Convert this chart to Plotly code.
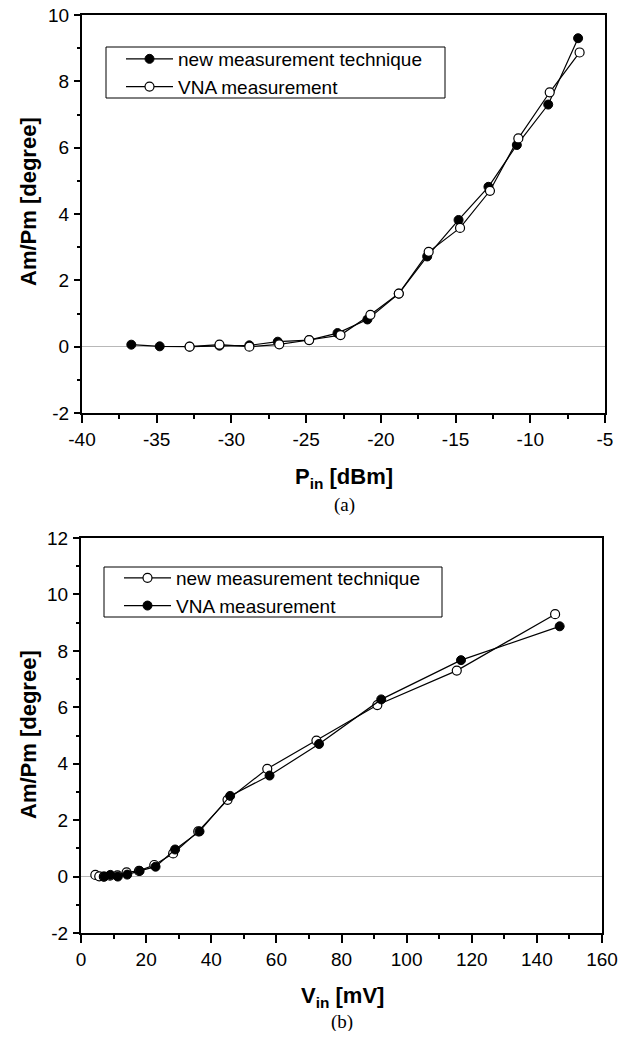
import plotly.graph_objects as go

# ---- data ----
new_P = [-36.7, -34.8, -32.8, -30.8, -28.8, -26.9, -24.8, -22.9, -20.9, -18.8, -16.9, -14.8, -12.8, -10.9, -8.8, -6.8]
new_ampm = [0.06, 0.01, 0.0, 0.03, 0.04, 0.15, 0.2, 0.41, 0.82, 1.6, 2.72, 3.82, 4.82, 6.08, 7.3, 9.3]
new_V = [4.4, 5.6, 7.0, 8.9, 11.2, 14.0, 17.8, 22.5, 28.3, 36.0, 45.0, 57.2, 72.3, 91.0, 115.4, 145.6]

vna_P = [-32.8, -30.8, -28.8, -26.8, -24.8, -22.7, -20.7, -18.8, -16.8, -14.7, -12.7, -10.8, -8.7, -6.7]
vna_ampm = [0.0, 0.06, 0.0, 0.07, 0.2, 0.35, 0.96, 1.6, 2.86, 3.58, 4.7, 6.28, 7.67, 8.87]
vna_V = [7.1, 9.0, 11.3, 14.2, 18.0, 22.9, 28.9, 36.4, 45.8, 57.9, 73.1, 92.2, 116.7, 147.0]

name_new = "new measurement technique"
name_vna = "VNA measurement"

# tick labels (hyphen-minus as in the reference)
p_ticks = [-40, -35, -30, -25, -20, -15, -10, -5]
p_ticktext = ["-40", "-35", "-30", "-25", "-20", "-15", "-10", "-5"]
v_ticks = [0, 20, 40, 60, 80, 100, 120, 140, 160]
v_ticktext = ["0", "20", "40", "60", "80", "100", "120", "140", "160"]
ya_ticks = [-2, 0, 2, 4, 6, 8, 10]
ya_ticktext = ["-2", "0", "2", "4", "6", "8", "10"]
yb_ticks = [-2, 0, 2, 4, 6, 8, 10, 12]
yb_ticktext = ["-2", "0", "2", "4", "6", "8", "10", "12"]

# the page body has an 8px margin, so the figure is placed at (8, 8)
OFF = 8
W, H = 626 - 2 * OFF, 1039 - 2 * OFF
FONT = "Arial, 'Liberation Sans', sans-serif"
SERIF = "'Times New Roman', 'Liberation Serif', serif"

def px_x(p):
    return (p - OFF) / W

def px_y(p):
    return 1 - (p - OFF) / H

filled = dict(symbol="circle", size=9, color="black", line=dict(color="black", width=1))
hollow = dict(symbol="circle", size=9, color="white", line=dict(color="black", width=1.2))
line_style = dict(color="black", width=1.2)

fig = go.Figure()
# top plot: new = filled, VNA = open
fig.add_trace(go.Scatter(x=new_P, y=new_ampm, mode="lines+markers", name=name_new,
                         marker=filled, line=line_style, xaxis="x", yaxis="y", legend="legend"))
fig.add_trace(go.Scatter(x=vna_P, y=vna_ampm, mode="lines+markers", name=name_vna,
                         marker=hollow, line=line_style, xaxis="x", yaxis="y", legend="legend"))
# bottom plot: new = open, VNA = filled
fig.add_trace(go.Scatter(x=new_V, y=new_ampm, mode="lines+markers", name=name_new,
                         marker=hollow, line=line_style, xaxis="x2", yaxis="y2", legend="legend2"))
fig.add_trace(go.Scatter(x=vna_V, y=vna_ampm, mode="lines+markers", name=name_vna,
                         marker=filled, line=line_style, xaxis="x2", yaxis="y2", legend="legend2"))

tickfont = dict(family=FONT, size=19, color="black")

def xax(rng, tv, tt, minor_dtick, domain, anchor):
    return dict(range=rng, tickmode="array", tickvals=tv, ticktext=tt, domain=domain, anchor=anchor,
                automargin=False, ticklabeloverflow="allow",
                showline=True, linewidth=2, linecolor="black", mirror=True,
                ticks="outside", ticklen=8, tickwidth=1.5, tickcolor="black",
                minor=dict(ticks="outside", ticklen=4, tickwidth=1.5, tickcolor="black",
                           tickmode="linear", tick0=rng[0], dtick=minor_dtick),
                showgrid=False, zeroline=False, tickfont=tickfont, ticklabelstandoff=0)

def yax(rng, tv, tt, domain, anchor):
    return dict(range=rng, tickmode="array", tickvals=tv, ticktext=tt, domain=domain, anchor=anchor,
                automargin=False, ticklabeloverflow="allow",
                showline=True, linewidth=2, linecolor="black", mirror=True,
                ticks="outside", ticklen=6, tickwidth=1.5, tickcolor="black",
                minor=dict(ticks="outside", ticklen=3, tickwidth=1.5, tickcolor="black",
                           tickmode="linear", tick0=rng[0], dtick=1),
                showgrid=False, zeroline=True, zerolinecolor="#b8b8b8", zerolinewidth=1.2,
                tickfont=tickfont, ticklabelstandoff=1)

legend_common = dict(bgcolor="rgba(0,0,0,0)", borderwidth=0,
                     font=dict(family=FONT, size=19, color="black"),
                     xanchor="left", yanchor="top", itemwidth=47, tracegroupgap=0)

fig.update_layout(
    width=W, height=H, margin=dict(l=0, r=0, t=0, b=0, autoexpand=False),
    paper_bgcolor="white", plot_bgcolor="white",
    xaxis=xax([-40, -5], p_ticks, p_ticktext, 2.5, [px_x(82), px_x(605)], "y"),
    yaxis=yax([-2, 10], ya_ticks, ya_ticktext, [px_y(413), px_y(15)], "x"),
    xaxis2=xax([0, 160], v_ticks, v_ticktext, 10, [px_x(81), px_x(602)], "y2"),
    yaxis2=yax([-2, 12], yb_ticks, yb_ticktext, [px_y(933), px_y(538)], "x2"),
    legend=dict(x=px_x(121), y=px_y(40), **legend_common),
    legend2=dict(x=px_x(119), y=px_y(559), **legend_common),
)

# legend frames
for (x0, y0, x1, y1) in [(106, 47, 445, 98), (104, 567, 442, 617)]:
    fig.add_shape(type="rect", xref="paper", yref="paper",
                  x0=px_x(x0), x1=px_x(x1), y0=px_y(y1), y1=px_y(y0),
                  line=dict(color="black", width=1), fillcolor="white", layer="above")

annots = [
    dict(text="<b>Am/Pm [degree]</b>", x=px_x(28), y=px_y(202), textangle=-90),
    dict(text="<b>Am/Pm [degree]</b>", x=px_x(28), y=px_y(735), textangle=-90),
    dict(text="<b>P<sub>in</sub> [dBm]</b>", x=px_x(344), y=px_y(478)),
    dict(text="<b>V<sub>in</sub> [mV]</b>", x=px_x(342), y=px_y(997)),
]
for a in annots:
    fig.add_annotation(xref="paper", yref="paper", showarrow=False, xanchor="center", yanchor="middle",
                       font=dict(family=FONT, size=22, color="black"), **a)
fig.add_annotation(text="(a)", xref="paper", yref="paper", x=px_x(344), y=px_y(505), showarrow=False,
                   xanchor="center", yanchor="middle", font=dict(family=SERIF, size=19, color="black"))
fig.add_annotation(text="(b)", xref="paper", yref="paper", x=px_x(342), y=px_y(1022), showarrow=False,
                   xanchor="center", yanchor="middle", font=dict(family=SERIF, size=19, color="black"))

fig.write_html("out.html")
